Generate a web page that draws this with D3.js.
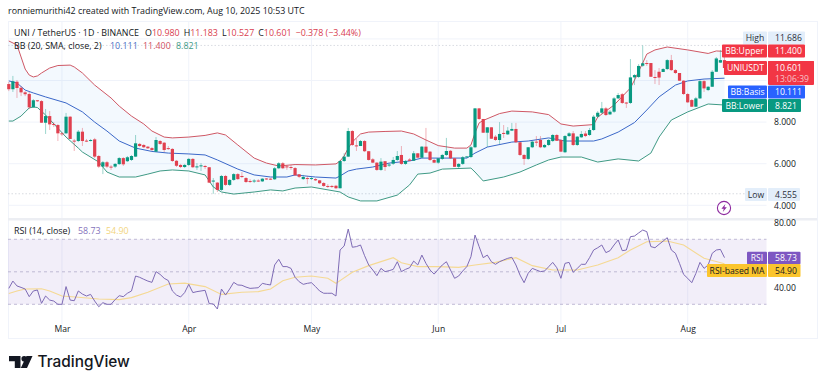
<!DOCTYPE html>
<html><head><meta charset="utf-8">
<script src="https://cdn.jsdelivr.net/npm/d3@7/dist/d3.min.js"></script>
<style>
html,body{margin:0;padding:0;background:#fff}
svg{display:block}
text{font-family:"Open Sans",sans-serif}
</style></head><body>
<svg id="c" width="825" height="385"></svg>
<script>
const headerText = "ronniemurithi42 created with TradingView.com, Aug 10, 2025 10:53 UTC";
const symbolText = "UNI / TetherUS · 1D · BINANCE";
const startDay = Date.UTC(2025,1,16);
const monthTicks = [[2025,2,"Mar"],[2025,3,"Apr"],[2025,4,"May"],[2025,5,"Jun"],[2025,6,"Jul"],[2025,7,"Aug"]];
const priceTicks = [8,6,4];
const priceGrid = [12,10,8,6,4];
const rsiTicks = [80,40];

const opens = [9.83,9.58,9.94,9.65,9.43,9.35,8.71,9.05,9.01,7.97,
8.29,7.91,7.86,7.46,7.46,8.26,7.11,7.09,7.54,7.11,
7.09,7.17,6.37,5.86,6.07,5.86,5.86,5.98,6.27,6.12,
6.18,6.34,6.95,6.90,6.82,6.75,6.58,7.09,7.01,6.75,
6.71,6.14,5.94,5.84,5.94,6.23,5.83,5.88,5.89,5.83,
5.14,5.09,4.74,5.41,4.98,5.22,5.50,5.41,5.31,5.17,
5.17,5.19,5.15,5.29,5.28,5.25,5.78,6.02,5.87,5.84,
5.79,5.49,5.26,5.31,5.27,5.26,5.20,5.07,4.93,4.93,
4.94,4.82,6.13,6.34,7.57,6.88,6.85,7.09,6.60,6.21,
6.05,5.70,6.12,5.91,6.00,6.18,6.42,5.99,6.20,6.14,
6.50,6.29,6.82,6.58,6.18,6.05,6.23,6.42,6.62,6.26,
5.85,5.99,6.32,6.32,6.79,8.66,8.15,7.49,7.75,7.30,
7.14,7.48,7.41,7.59,7.67,7.03,6.42,6.23,6.79,7.06,
7.14,6.79,6.90,7.09,7.38,7.14,6.55,7.33,7.46,6.90,
7.27,7.45,7.38,7.62,8.26,8.45,8.66,8.37,8.50,9.14,
9.34,8.94,8.92,10.15,10.17,10.71,10.84,10.84,10.17,10.42,
10.41,10.55,10.98,10.50,10.36,9.99,9.35,9.06,8.74,9.14,
9.97,9.54,9.70,10.42,10.86,10.98];
const closes = [9.58,9.96,9.64,9.43,9.34,8.71,9.05,9.02,7.97,8.29,
7.89,7.86,7.46,7.43,8.26,7.19,7.09,7.54,7.09,7.09,
7.14,6.34,5.86,6.07,5.86,5.82,5.99,6.27,5.97,6.31,
6.37,6.98,6.85,6.79,6.74,6.66,7.14,6.95,6.66,6.71,
6.13,5.90,5.84,5.94,6.23,5.83,5.87,5.92,5.84,5.09,
5.19,4.74,5.41,4.98,5.22,5.50,5.26,5.36,5.12,5.13,
5.19,5.17,5.28,5.25,5.24,5.78,6.02,5.78,5.84,5.80,
5.44,5.37,5.36,5.27,5.31,5.20,5.06,4.93,4.90,4.90,
4.82,6.13,6.34,7.57,6.90,6.85,7.09,6.60,6.18,6.05,
5.70,6.10,5.84,5.96,6.18,6.37,5.99,6.13,6.14,6.50,
6.29,6.82,6.53,6.18,6.05,6.26,6.42,6.61,6.26,5.85,
5.99,6.31,6.35,6.79,8.66,8.15,7.49,7.75,7.20,7.14,
7.43,7.43,7.59,7.67,7.03,6.42,6.23,6.79,7.06,7.03,
6.79,6.90,7.14,7.38,7.10,6.58,7.33,7.46,6.90,7.30,
7.43,7.33,7.62,8.26,8.45,8.66,8.34,8.50,9.14,9.30,
8.92,8.91,10.15,10.26,10.70,10.83,10.80,10.18,10.12,10.14,
10.55,10.98,10.50,10.36,9.99,9.35,8.95,8.74,9.14,9.97,
9.62,9.70,10.42,11.06,10.98,10.601];
const highs = [9.93,10.22,10.02,9.73,9.49,9.45,9.11,9.06,9.06,8.63,
8.53,8.00,7.91,7.52,8.44,8.29,7.19,7.62,7.72,7.19,
7.19,7.24,6.42,6.13,6.13,5.94,6.03,6.32,6.32,6.37,
6.42,7.38,7.00,6.95,6.85,6.80,7.28,7.14,7.04,6.85,
6.75,6.18,5.99,5.99,6.27,6.27,6.03,6.03,5.94,5.84,
5.31,5.12,5.46,5.46,5.26,5.55,5.55,5.60,5.36,5.26,
5.26,5.26,5.31,5.31,5.31,5.84,6.08,6.08,5.94,5.94,
5.84,5.50,5.46,5.41,5.36,5.31,5.22,5.12,5.02,4.98,
4.98,6.18,6.51,7.72,7.62,7.19,7.14,7.14,6.61,6.27,
6.08,6.27,6.13,6.03,6.32,6.61,6.85,6.18,6.27,6.61,
6.51,6.85,7.72,6.61,6.23,6.27,6.47,7.24,6.66,6.27,
6.03,6.37,6.37,6.85,8.68,8.68,8.15,7.76,7.76,7.38,
8.00,7.86,7.76,7.96,7.96,7.04,6.47,6.80,7.09,7.33,
7.33,6.95,7.19,7.43,7.43,7.19,7.38,7.52,7.57,7.33,
7.57,7.57,7.72,8.34,8.53,8.97,8.73,8.58,9.21,9.40,
9.40,8.97,11.03,10.31,10.79,11.686,10.98,10.84,10.50,10.60,
10.60,11.03,11.23,10.55,10.36,10.02,9.40,9.11,9.21,10.02,
10.02,9.73,10.50,11.13,11.47,11.183];
const lows = [9.49,9.45,9.16,9.25,9.25,8.63,8.68,8.97,7.96,7.43,
7.62,7.76,7.09,7.33,7.43,7.19,6.61,7.04,6.85,7.04,
7.07,6.27,5.79,5.50,5.79,5.70,5.79,5.94,5.89,6.08,
6.13,6.32,6.80,6.75,6.71,6.61,6.56,6.90,6.56,6.66,
6.08,5.84,5.79,5.79,5.89,5.79,5.70,5.65,5.74,5.07,
4.555,4.64,4.69,4.93,4.93,5.17,5.22,5.31,5.07,5.07,
5.07,5.12,5.12,5.22,5.22,5.22,5.74,5.74,5.70,5.70,
5.41,5.31,5.22,5.02,5.22,5.17,5.02,4.88,4.83,4.83,
4.78,4.81,6.08,6.32,6.85,6.61,6.85,6.56,6.15,6.03,
5.65,5.65,5.65,5.84,5.94,6.13,5.94,5.94,6.13,6.13,
6.27,6.27,6.51,6.13,6.03,5.99,6.18,6.37,6.23,5.84,
5.79,5.94,6.27,6.27,6.75,8.10,7.48,6.80,7.19,7.09,
6.95,7.24,7.38,7.57,7.00,6.37,5.94,6.18,6.75,6.85,
6.75,6.75,6.85,7.04,7.09,6.56,6.51,7.28,6.85,6.85,
7.24,7.28,7.33,7.57,8.20,8.39,8.29,8.34,8.44,9.11,
8.87,8.68,8.87,9.78,10.12,10.65,10.70,10.17,9.83,9.78,
10.41,10.50,10.46,10.31,9.98,9.30,8.92,8.73,8.73,9.11,
9.45,9.49,9.69,10.41,10.84,10.527];

const upperDays = [0,2,3,4,5,6,7,8,10,12,15,16,18,21,25,27,30,33,35,38,40,44,48,51,53,56,60,63,66,70,75,80,81,82,83,84,85,86,88,92,96,99,102,105,109,112,113,114,115,116,120,123,128,132,135,138,143,144,148,152,153,155,156,158,161,166,171,173,175];
const upperValues = [11.90,11.71,11.13,10.55,10.26,10.17,10.22,10.36,10.60,10.72,10.74,10.65,10.36,9.78,9.16,8.77,8.29,7.91,7.57,7.28,7.24,7.28,7.36,7.48,7.38,6.90,6.27,6.03,5.89,5.96,5.94,5.99,6.13,6.37,6.75,7.04,7.24,7.43,7.52,7.55,7.57,7.43,7.14,6.87,6.75,6.75,6.90,7.48,7.96,8.08,8.41,8.53,8.49,8.36,7.91,7.81,7.88,8.24,8.82,9.64,10.02,10.84,11.27,11.47,11.61,11.47,11.30,11.42,11.40];
const basisDays = [0,2,4,6,9,14,18,21,24,27,31,35,39,44,48,51,56,60,64,68,70,75,80,81,83,85,89,93,98,101,105,112,114,117,123,127,132,136,143,145,149,153,156,159,163,166,170,175];
const basisValues = [9.98,9.88,9.54,9.40,9.21,8.92,8.49,8.00,7.57,7.09,6.75,6.59,6.51,6.47,6.42,6.18,5.74,5.46,5.36,5.36,5.46,5.36,5.31,5.41,5.65,5.74,5.84,6.03,6.13,6.27,6.27,6.27,6.51,6.80,7.04,7.09,7.24,7.09,7.09,7.19,7.52,7.98,8.58,9.21,9.78,9.98,10.07,10.111];
const lowerDays = [0,1,3,4,5,6,7,9,14,17,18,22,24,27,31,34,37,40,44,48,50,52,55,60,64,67,70,74,81,83,86,90,95,98,100,103,106,113,114,116,121,125,129,132,135,140,144,149,154,157,159,162,166,171,175];
const lowerValues = [8.05,8.05,8.29,8.49,8.68,8.73,8.70,8.34,7.28,6.75,6.56,6.08,5.60,5.36,5.36,5.50,5.65,5.70,5.65,5.46,4.88,4.64,4.54,4.64,4.74,4.69,4.83,4.88,4.64,4.40,4.21,4.21,4.49,4.98,5.50,5.55,5.74,5.79,5.60,5.17,5.36,5.60,5.94,6.18,6.32,6.32,6.08,6.23,6.13,6.51,7.28,8.10,8.49,8.87,8.821];

const rsiValues = [39.8,44.3,41.3,40.4,39.4,34.7,38.2,38.8,30.6,35.1,
32.6,32.0,30.0,30.0,40.9,32.6,32.2,38.2,36.3,35.1,
36.1,32.0,28.5,31.0,30.0,30.0,32.9,35.3,34.7,36.8,
38.2,47.4,46.6,45.4,44.3,43.5,50.1,48.4,46.0,44.6,
38.2,35.7,34.5,37.2,42.3,37.2,37.8,38.2,38.6,30.4,
30.2,27.1,39.4,35.7,39.4,43.5,41.9,41.7,40.6,39.8,
40.0,40.2,42.9,42.3,41.9,54.2,57.7,53.2,53.2,52.1,
46.6,43.9,42.3,42.9,43.3,40.9,38.2,36.8,36.8,36.8,
35.1,63.4,65.9,76.3,65.1,65.5,66.5,59.9,54.2,51.1,
47.6,52.1,50.1,50.7,51.5,56.2,50.1,51.5,52.5,56.6,
54.2,60.3,55.2,51.1,48.6,51.5,54.2,56.2,51.1,46.0,
47.4,50.5,53.2,59.3,72.6,65.5,58.7,60.3,56.2,54.6,
56.2,57.3,58.3,58.9,54.2,48.0,43.3,49.1,52.1,51.1,
50.1,50.5,53.1,55.8,52.5,46.0,55.2,55.8,49.7,52.1,
54.6,54.6,58.7,63.4,64.8,66.5,61.8,63.0,66.5,69.6,
63.0,63.4,71.6,72.0,73.9,75.7,74.7,65.5,64.8,66.9,
68.9,71.0,63.4,61.4,55.2,48.4,46.0,43.3,49.0,55.8,
52.1,54.2,61.4,63.4,63.8,58.73];
const rsiMaDays = [0,2,4,8,10,13,17,22,27,30,34,39,43,48,52,57,61,64,67,70,74,78,80,84,88,94,96,100,105,110,114,119,124,128,133,139,144,149,152,156,161,165,170,175];
const rsiMaValues = [36.7,38.2,39.4,39.6,38.2,35.1,34.3,33.3,32.9,34.1,37.4,42.5,43.0,40.9,36.1,37.4,37.8,39.4,44.5,46.6,47.4,46.0,42.9,49.7,53.8,58.7,55.6,53.2,53.2,52.7,54.2,55.8,58.7,53.8,51.1,51.1,54.2,58.7,63.4,68.5,68.9,66.5,58.3,54.90];

const COL = {up:"#089981",down:"#e0404f",red:"#f23645",blue:"#2962ff",green:"#089981",purple:"#7e57c2",yellow:"#fbc52d",text:"#131722",mute:"#2a2e39"};
const dayMs = 86400000;
const dateOf = i => new Date(startDay + i*dayMs);
const L=8, R=766.5, PANE_TOP=21, PANE_BOT=218, RSI_TOP=221, RSI_BOT=338, FR=817;

const x = d3.scaleUtc().domain([dateOf(0),dateOf(175)]).range([8.8,724.5]);
const y = d3.scaleLinear().domain([4,8]).range([205.3,122.1]);
const yR = d3.scaleLinear().domain([30,70]).range([304.3,239.3]);

const svg = d3.select("#c");
svg.append("text").attr("x",8).attr("y",14).attr("font-size",8.9).attr("fill",COL.text).text(headerText);

// frame
const gridC="#f0f3fa";
svg.append("rect").attr("x",L+.5).attr("y",PANE_TOP+.5).attr("width",FR-L).attr("height",RSI_BOT-PANE_TOP).attr("fill","none").attr("stroke",gridC);
svg.append("rect").attr("x",L).attr("y",PANE_BOT).attr("width",FR-L).attr("height",2.5).attr("fill","#eceef3");

// grid
const grid = svg.append("g");
priceGrid.forEach(v=>grid.append("line").attr("x1",L).attr("x2",R).attr("y1",y(v)).attr("y2",y(v)).attr("stroke",gridC));
monthTicks.forEach(m=>{
  const px=x(new Date(Date.UTC(2025,m[1],1)));
  grid.append("line").attr("x1",px).attr("x2",px).attr("y1",PANE_TOP).attr("y2",PANE_BOT).attr("stroke",gridC);
  grid.append("line").attr("x1",px).attr("x2",px).attr("y1",RSI_TOP).attr("y2",RSI_BOT-14).attr("stroke",gridC);
});
// high / low dotted
[11.686,4.555].forEach(v=>grid.append("line").attr("x1",L).attr("x2",R).attr("y1",y(v)).attr("y2",y(v)).attr("stroke","#cfd2d9").attr("stroke-dasharray","1.5 2").attr("stroke-width",.8));

// bollinger
const pts=(d,v)=>d.map((di,k)=>[x(dateOf(di)),y(v[k])]);
const line=d3.line();
const up=pts(upperDays,upperValues), lo=pts(lowerDays,lowerValues), ba=pts(basisDays,basisValues);
svg.append("path").attr("d",line(up.concat(lo.slice().reverse()))+"Z").attr("fill","#2196f3").attr("fill-opacity",.055);
svg.append("path").attr("d",line(up)).attr("fill","none").attr("stroke","#cf5865").attr("stroke-width",1);
svg.append("path").attr("d",line(ba)).attr("fill","none").attr("stroke","#3b68c9").attr("stroke-width",1);
svg.append("path").attr("d",line(lo)).attr("fill","none").attr("stroke","#3f9a85").attr("stroke-width",1);

// candles
const candles = opens.map((o,i)=>({i,o,c:closes[i],h:highs[i],l:lows[i]}));
const cg=svg.append("g").selectAll("g").data(candles).join("g")
  .attr("fill",d=>d.c>=d.o?COL.up:COL.down).attr("stroke",d=>d.c>=d.o?COL.up:COL.down);
cg.append("line").attr("x1",d=>x(dateOf(d.i))).attr("x2",d=>x(dateOf(d.i)))
  .attr("y1",d=>y(d.h)).attr("y2",d=>y(d.l)).attr("stroke-width",.8).attr("stroke-opacity",.5);
cg.append("rect").attr("x",d=>x(dateOf(d.i))-1.6).attr("width",3.2)
  .attr("y",d=>Math.min(y(d.o),y(d.c))).attr("height",d=>Math.max(1,Math.abs(y(d.o)-y(d.c)))).attr("stroke","none");

// RSI
svg.append("rect").attr("x",L).attr("width",R-L).attr("y",yR(70)).attr("height",yR(30)-yR(70)).attr("fill",COL.purple).attr("fill-opacity",.1);
[70,50,30].forEach(v=>svg.append("line").attr("x1",L).attr("x2",R).attr("y1",yR(v)).attr("y2",yR(v)).attr("stroke","#b3accb").attr("stroke-dasharray","3 3").attr("stroke-width",.8));
const rl=d3.line().x(d=>x(dateOf(d[0]))).y(d=>yR(d[1]));
svg.append("path").attr("d",rl(rsiMaDays.map((d,k)=>[d,rsiMaValues[k]]))).attr("fill","none").attr("stroke","#f5d993").attr("stroke-width",1.1);
svg.append("path").attr("d",rl(rsiValues.map((v,i)=>[i,v]))).attr("fill","none").attr("stroke","#7e6bb5").attr("stroke-width",1);

// time axis
svg.append("g").attr("transform",`translate(0,${328-2})`)
  .call(d3.axisBottom(x).tickValues(monthTicks.map(m=>new Date(Date.UTC(2025,m[1],1)))).tickFormat((d,k)=>monthTicks[k][2]).tickSize(0).tickPadding(0))
  .call(g=>g.select(".domain").remove())
  .call(g=>g.selectAll("text").attr("font-size",8.6).attr("fill",COL.text).attr("font-family",'"Open Sans",sans-serif').attr("dy",".75em"));

// price axes
const axP=d3.axisRight(y).tickValues(priceTicks).tickFormat(d3.format(".3f")).tickSize(0).tickPadding(0);
const styleAx=g=>{g.select(".domain").remove();g.selectAll("text").attr("font-size",8.6).attr("fill",COL.text).attr("font-family",'"Open Sans",sans-serif');};
svg.append("g").attr("transform","translate(774,0)").call(axP).call(styleAx);
svg.append("g").attr("transform","translate(774,0)").call(d3.axisRight(yR).tickValues(rsiTicks).tickFormat(d3.format(".2f")).tickSize(0).tickPadding(0)).call(styleAx);

// legend
const seg=(x0,yy,parts,fs=8.9)=>{const t=svg.append("text").attr("x",x0).attr("y",yy).attr("font-size",fs);parts.forEach(p=>t.append("tspan").attr("fill",p[1]).attr("dx",p[2]||0).text(p[0]));};
seg(14,35.5,[[symbolText,COL.text]]);
const r="#d8404f";
seg(145,35.5,[["O",COL.text],["10.980",r],["H",COL.text,4],["11.183",r],["L",COL.text,4],["10.527",r],["C",COL.text,4],["10.601",r],["−0.378 (−3.44%)",r,4]]);
seg(14,48.5,[["BB (20, SMA, close, 2)",COL.text]]);
seg(110,48.5,[["10.111","#4a6fc4"]]);seg(143,48.5,[["11.400","#d0505f"]]);seg(176,48.5,[["8.821","#3f9a85"]]);
seg(14,234,[["RSI (14, close)",COL.text]]);
seg(78,234,[["58.73","#8573bb"]]);seg(106,234,[["54.90","#f2d57e"]]);

// price labels
function lab(xName,name,val,yc,bg,fg,h=13,xVal=768,wVal=37){
  svg.append("rect").attr("x",xName).attr("y",yc-h/2).attr("width",767-xName).attr("height",h).attr("fill",bg).attr("rx",1);
  svg.append("rect").attr("x",xVal).attr("y",yc-h/2).attr("width",wVal).attr("height",h).attr("fill",bg).attr("rx",1);
  svg.append("text").attr("x",(xName+767)/2).attr("y",yc+3).attr("text-anchor","middle").attr("font-size",8.6).attr("fill",fg).text(name);
  svg.append("text").attr("x",775).attr("y",yc+3).attr("font-size",8.6).attr("fill",fg).text(val);
}
lab(743,"High","11.686",38,"#e3eefa",COL.mute);
lab(722,"BB:Upper","11.400",51,COL.red,"#fff");
svg.append("rect").attr("x",768).attr("y",61).attr("width",46).attr("height",24).attr("fill",COL.red).attr("rx",1);
lab(724,"UNIUSDT","10.601",68,COL.red,"#fff",14,768,46);
svg.append("text").attr("x",775).attr("y",82).attr("font-size",8.6).attr("fill","#f8c0c5").text("13:06:39");
lab(728,"BB:Basis","10.111",92,COL.blue,"#fff");
lab(722,"BB:Lower","8.821",105.5,COL.green,"#fff",13,768,33);
lab(745,"Low","4.555",194.5,"#e3eefa",COL.mute,13,768,32);
lab(747,"RSI","58.73",258,COL.purple,"#fff",12.5,768,32.5);
lab(707,"RSI-based MA","54.90",270.5,COL.yellow,COL.text,13,768,32.5);

// lightning icon
const ic=svg.append("g").attr("transform","translate(724,208)");
ic.append("circle").attr("r",6.6).attr("fill","#fff").attr("stroke","#8e2ba0").attr("stroke-width",1.1);
ic.append("path").attr("d","M1.4 -4 L-2.6 0.8 H-0.2 L-1.2 4 L2.8 -0.8 H0.4 Z").attr("fill","#8e2ba0");

// logo
const lg=svg.append("g").attr("fill","#131722");
lg.append("path").attr("d","M9 356 H20.5 V368 H14.8 V361.2 H9 Z");
lg.append("circle").attr("cx",24.2).attr("cy",358.8).attr("r",2.8);
lg.append("path").attr("d","M26.5 356 H32.5 L27 368 H20.8 Z");
svg.append("text").attr("x",37.5).attr("y",367).attr("font-size",15.4).attr("font-weight",500).attr("fill","#131722").style("font-family","Inter,sans-serif").text("TradingView");
</script>
</body></html>
